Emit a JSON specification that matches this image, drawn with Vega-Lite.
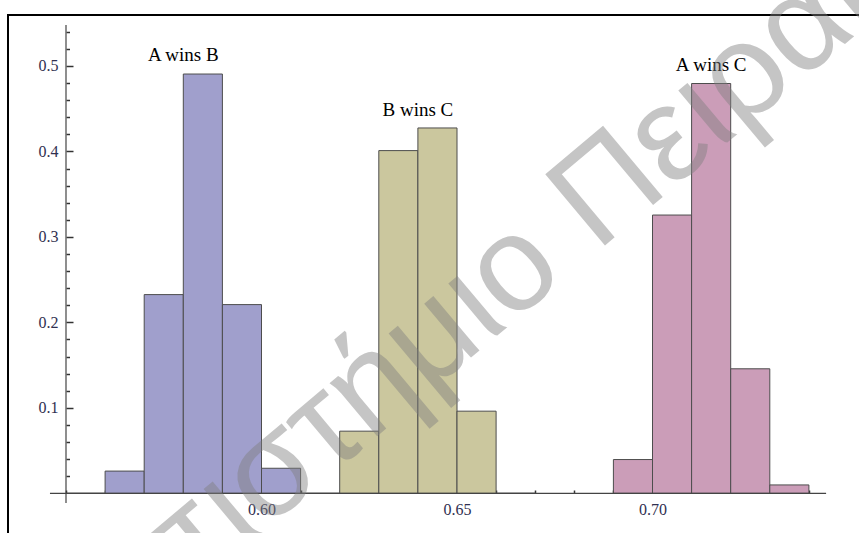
{
  "$schema": "https://vega.github.io/schema/vega-lite/v6.json",
  "width": 860,
  "height": 530,
  "autosize": {"type": "none"},
  "padding": {"left": 8, "top": 15, "right": 0, "bottom": 0},
  "background": "white",
  "config": {"view": {"stroke": "#000000", "strokeWidth": 2}},
  "datasets": {
    "bins": [
      {"series": "A wins B", "start": 0.55, "end": 0.56, "freq": 0},
      {"series": "A wins B", "start": 0.56, "end": 0.57, "freq": 0.026},
      {"series": "A wins B", "start": 0.57, "end": 0.58, "freq": 0.2325},
      {"series": "A wins B", "start": 0.58, "end": 0.59, "freq": 0.4906},
      {"series": "A wins B", "start": 0.59, "end": 0.60, "freq": 0.2208},
      {"series": "A wins B", "start": 0.60, "end": 0.61, "freq": 0.0293},
      {"series": "A wins B", "start": 0.61, "end": 0.62, "freq": 0},
      {"series": "B wins C", "start": 0.62, "end": 0.63, "freq": 0.0727},
      {"series": "B wins C", "start": 0.63, "end": 0.64, "freq": 0.401},
      {"series": "B wins C", "start": 0.64, "end": 0.65, "freq": 0.4275},
      {"series": "B wins C", "start": 0.65, "end": 0.66, "freq": 0.0961},
      {"series": "B wins C", "start": 0.66, "end": 0.67, "freq": 0},
      {"series": "A wins C", "start": 0.69, "end": 0.70, "freq": 0.0395},
      {"series": "A wins C", "start": 0.70, "end": 0.71, "freq": 0.3256},
      {"series": "A wins C", "start": 0.71, "end": 0.72, "freq": 0.4795},
      {"series": "A wins C", "start": 0.72, "end": 0.73, "freq": 0.1457},
      {"series": "A wins C", "start": 0.73, "end": 0.74, "freq": 0.0098}
    ],
    "labels": [
      {"label": "A wins B", "x": 0.58, "y": 0.506},
      {"label": "B wins C", "x": 0.64, "y": 0.4415},
      {"label": "A wins C", "x": 0.715, "y": 0.494}
    ],
    "watermark": [
      {"text": "Πανεπιστήμιο Πειραιώς", "x": 0.648, "y": 0.2}
    ]
  },
  "resolve": {"axis": {"x": "independent", "y": "independent"}},
  "layer": [
    {
      "data": {"name": "bins"},
      "mark": {"type": "rect", "stroke": "#4d4d4d", "strokeWidth": 1},
      "encoding": {
        "x": {
          "field": "start",
          "type": "quantitative",
          "scale": {"domain": [0.535166, 0.755115], "nice": false, "zero": false},
          "axis": {
            "orient": "bottom",
            "title": null,
            "domain": false,
            "grid": false,
            "ticks": false,
            "offset": -52,
            "values": [0.6, 0.65, 0.7],
            "format": ".2f",
            "labelPadding": 8,
            "labelOverlap": false,
            "labelFlush": false,
            "labelFont": "Liberation Serif",
            "labelFontSize": 16,
            "labelColor": "#303050"
          }
        },
        "x2": {"field": "end"},
        "y": {
          "field": "freq",
          "type": "quantitative",
          "scale": {"domain": [-0.060496, 0.55967], "nice": false, "zero": false},
          "axis": {
            "orient": "left",
            "title": null,
            "domain": false,
            "grid": false,
            "ticks": false,
            "offset": -58,
            "values": [0.1, 0.2, 0.3, 0.4, 0.5],
            "format": ".1f",
            "labelPadding": 8,
            "labelOverlap": false,
            "labelFlush": false,
            "labelFont": "Liberation Serif",
            "labelFontSize": 16,
            "labelColor": "#303050"
          }
        },
        "y2": {"datum": 0},
        "color": {
          "field": "series",
          "type": "nominal",
          "scale": {"domain": ["A wins B", "B wins C", "A wins C"], "range": ["#a09fcc", "#cbc79e", "#cb9db8"]},
          "legend": null
        }
      }
    },
    {
      "data": {"values": [{}]},
      "mark": {"type": "rule", "color": "#444444", "strokeWidth": 1.2},
      "encoding": {
        "x": {
          "datum": 0.55,
          "type": "quantitative",
          "axis": {
            "orient": "top",
            "title": null,
            "domain": false,
            "grid": false,
            "labels": false,
            "offset": -478,
            "values": [0.55, 0.56, 0.57, 0.58, 0.59, 0.6, 0.61, 0.62, 0.63, 0.64, 0.65, 0.66, 0.67, 0.68, 0.69, 0.7, 0.71, 0.72, 0.73, 0.74],
            "tickSize": 3,
            "tickWidth": 1.5,
            "tickColor": "#333333"
          }
        },
        "y": {
          "datum": -0.0114,
          "type": "quantitative",
          "axis": {
            "orient": "right",
            "title": null,
            "domain": false,
            "grid": false,
            "labels": false,
            "offset": -802,
            "values": [0.1, 0.2, 0.3, 0.4, 0.5],
            "tickSize": 7,
            "tickWidth": 1.5,
            "tickColor": "#333333"
          }
        },
        "y2": {"datum": 0.548}
      }
    },
    {
      "data": {"values": [{}]},
      "mark": {"type": "rule", "color": "#444444", "strokeWidth": 1.2},
      "encoding": {
        "x": {"datum": 0.5459, "type": "quantitative", "axis": null},
        "x2": {"datum": 0.7444},
        "y": {
          "datum": 0,
          "type": "quantitative",
          "axis": {
            "orient": "right",
            "title": null,
            "domain": false,
            "grid": false,
            "labels": false,
            "offset": -802,
            "values": [0.02, 0.04, 0.06, 0.08, 0.12, 0.14, 0.16, 0.18, 0.22, 0.24, 0.26, 0.28, 0.32, 0.34, 0.36, 0.38, 0.42, 0.44, 0.46, 0.48, 0.52, 0.54],
            "tickSize": 3.5,
            "tickWidth": 1.5,
            "tickColor": "#333333"
          }
        }
      }
    },
    {
      "data": {"name": "labels"},
      "mark": {"type": "text", "font": "Liberation Serif", "fontSize": 19, "align": "center", "baseline": "alphabetic", "color": "#000000"},
      "encoding": {
        "x": {"field": "x", "type": "quantitative", "axis": null},
        "y": {"field": "y", "type": "quantitative", "axis": null},
        "text": {"field": "label"}
      }
    },
    {
      "data": {"name": "watermark"},
      "mark": {"type": "text", "font": "Liberation Sans", "fontSize": 135, "angle": -40, "align": "center", "baseline": "middle", "color": "#808080", "opacity": 0.45},
      "encoding": {
        "x": {"field": "x", "type": "quantitative", "axis": null},
        "y": {"field": "y", "type": "quantitative", "axis": null},
        "text": {"field": "text"}
      }
    }
  ]
}
